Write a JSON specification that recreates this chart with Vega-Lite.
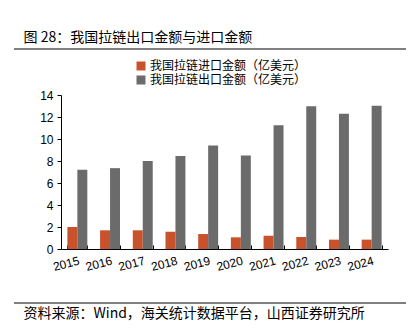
{
  "$schema": "https://vega.github.io/schema/vega-lite/v6.json",
  "padding": {"left": 13, "top": 30, "right": 5, "bottom": 0},
  "spacing": 29,
  "config": {
    "view": {"stroke": null},
    "font": "Noto Sans CJK SC",
    "axis": {"domainColor": "#000", "tickColor": "#000", "labelColor": "#000", "labelFont": "Liberation Sans", "labelFontSize": 12, "grid": false}
  },
  "vconcat": [
    {
      "width": 392,
      "height": 11,
      "title": {"text": "图 28：我国拉链出口金额与进口金额", "anchor": "start", "dx": 10, "offset": -10, "fontSize": 14, "fontWeight": "normal", "font": "Noto Sans CJK SC", "color": "#000", "baseline": "bottom"},
      "data": {"values": [{"line": 1}]},
      "mark": {"type": "rule", "color": "#000", "strokeWidth": 1},
      "encoding": {"y": {"field": "line", "type": "quantitative", "scale": {"domain": [0, 1]}, "axis": null}}
    },
    {
      "width": 392,
      "height": 154,
      "data": {"values": [
        {"year": "2015", "series": "我国拉链进口金额（亿美元）", "value": 2.0},
        {"year": "2015", "series": "我国拉链出口金额（亿美元）", "value": 7.2},
        {"year": "2016", "series": "我国拉链进口金额（亿美元）", "value": 1.7},
        {"year": "2016", "series": "我国拉链出口金额（亿美元）", "value": 7.35},
        {"year": "2017", "series": "我国拉链进口金额（亿美元）", "value": 1.7},
        {"year": "2017", "series": "我国拉链出口金额（亿美元）", "value": 8.0},
        {"year": "2018", "series": "我国拉链进口金额（亿美元）", "value": 1.57},
        {"year": "2018", "series": "我国拉链出口金额（亿美元）", "value": 8.45},
        {"year": "2019", "series": "我国拉链进口金额（亿美元）", "value": 1.36},
        {"year": "2019", "series": "我国拉链出口金额（亿美元）", "value": 9.4},
        {"year": "2020", "series": "我国拉链进口金额（亿美元）", "value": 1.06},
        {"year": "2020", "series": "我国拉链出口金额（亿美元）", "value": 8.5},
        {"year": "2021", "series": "我国拉链进口金额（亿美元）", "value": 1.2},
        {"year": "2021", "series": "我国拉链出口金额（亿美元）", "value": 11.25},
        {"year": "2022", "series": "我国拉链进口金额（亿美元）", "value": 1.09},
        {"year": "2022", "series": "我国拉链出口金额（亿美元）", "value": 12.97},
        {"year": "2023", "series": "我国拉链进口金额（亿美元）", "value": 0.85},
        {"year": "2023", "series": "我国拉链出口金额（亿美元）", "value": 12.3},
        {"year": "2024", "series": "我国拉链进口金额（亿美元）", "value": 0.85},
        {"year": "2024", "series": "我国拉链出口金额（亿美元）", "value": 13.03}
      ]},
      "mark": {"type": "bar"},
      "encoding": {
        "x": {"field": "year", "type": "nominal", "scale": {"range": [47, 374], "paddingInner": 0.39, "paddingOuter": 0.195},
          "axis": {"title": null, "labelAngle": -15, "tickBand": "extent", "tickSize": -4, "labelPadding": 10}},
        "xOffset": {"field": "series", "type": "nominal", "sort": ["我国拉链进口金额（亿美元）", "我国拉链出口金额（亿美元）"], "scale": {"paddingInner": 0, "paddingOuter": 0}},
        "y": {"field": "value", "type": "quantitative", "scale": {"domain": [0, 14]},
          "axis": {"title": null, "values": [0, 2, 4, 6, 8, 10, 12, 14], "offset": -47, "tickSize": 4, "labelPadding": 4}},
        "color": {"field": "series", "type": "nominal",
          "scale": {"domain": ["我国拉链进口金额（亿美元）", "我国拉链出口金额（亿美元）"], "range": ["#c9522c", "#6b6b6b"]},
          "legend": {"title": null, "orient": "none", "legendX": 121, "legendY": 11, "padding": 0, "symbolType": "square", "symbolSize": 81, "symbolStrokeWidth": 0, "labelFontSize": 12, "labelFont": "Noto Sans CJK SC", "labelColor": "#000", "rowPadding": 2, "labelOffset": 3}}
      }
    },
    {
      "width": 392,
      "height": 1,
      "title": {"text": "资料来源：Wind，海关统计数据平台，山西证券研究所", "orient": "bottom", "anchor": "start", "dx": 10, "offset": 3, "fontSize": 14, "fontWeight": "normal", "font": "Noto Sans CJK SC", "color": "#000", "baseline": "top"},
      "data": {"values": [{"line": 1}]},
      "mark": {"type": "rule", "color": "#000", "strokeWidth": 1},
      "encoding": {"y": {"field": "line", "type": "quantitative", "scale": {"domain": [0, 1]}, "axis": null}}
    }
  ]
}
